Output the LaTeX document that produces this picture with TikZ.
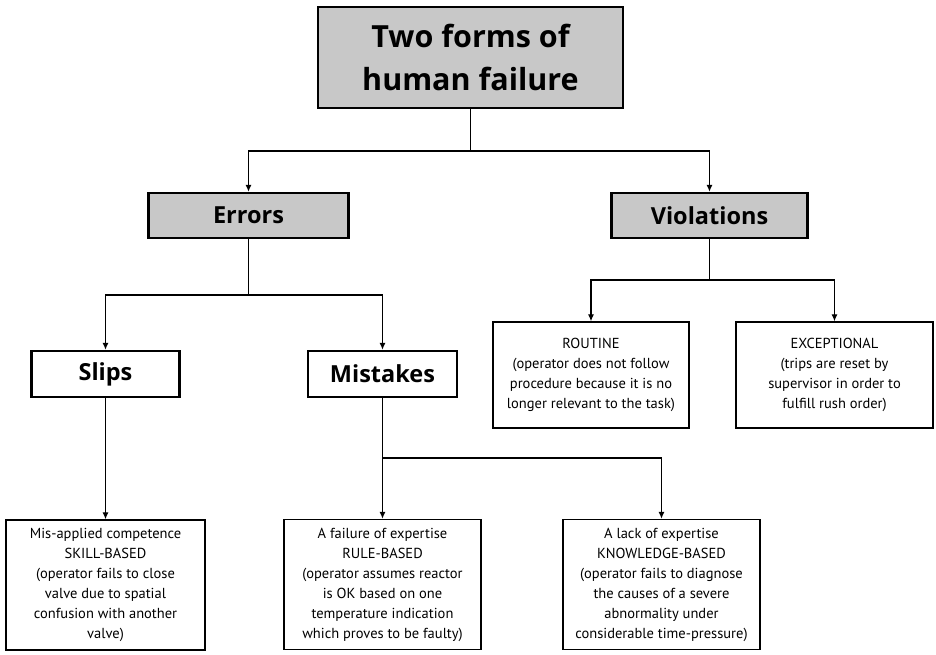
\documentclass[tikz,border=0pt]{standalone}
\usepackage{fontspec}
\setmainfont{PT Sans}
\newfontfamily\headfont{Open Sans}
\usetikzlibrary{arrows.meta}
\definecolor{boxgray}{RGB}{200,200,200}
\begin{document}
\begin{tikzpicture}[x=1pt,y=-1pt,
  head/.style={draw, line width=2.4pt, fill=boxgray, inner sep=0pt, font=\headfont\bfseries\fontsize{23.5}{26}\selectfont},
  sub/.style={draw, line width=2.4pt, fill=white, inner sep=0pt, font=\headfont\bfseries\fontsize{23.5}{26}\selectfont},
  leaf/.style={draw, line width=1.4pt, fill=white, inner sep=0pt, align=center, font=\fontsize{14.5}{20}\selectfont},
  conn/.style={line width=1.1pt},
  arr/.style={line width=1.1pt, -{Latex[length=7pt,width=6pt]}}]
\useasboundingbox (0,0) rectangle (936,654);
% nodes
\node[head, minimum width=305pt, minimum height=101pt, align=center,
      font=\headfont\bfseries\fontsize{30.5}{43}\selectfont] (top) at (470.5,57.5) {Two forms of\\human failure};
\node[head, minimum width=200pt, minimum height=45pt] (err) at (248.5,215.5) {Errors};
\node[head, minimum width=196pt, minimum height=45pt] (vio) at (709.5,215.5) {Violations};
\node[sub, minimum width=148pt, minimum height=46pt] (slips) at (105.5,374) {Slips};
\node[sub, minimum width=149pt, minimum height=46pt] (mist) at (382.5,374) {Mistakes};
\node[leaf, minimum width=196pt, minimum height=106pt] (rout) at (591,375) {ROUTINE\\(operator does not follow\\procedure because it is no\\longer relevant to the task)};
\node[leaf, minimum width=197pt, minimum height=106pt] (exc) at (834.5,375) {EXCEPTIONAL\\(trips are reset by\\supervisor in order to\\fulfill rush order)};
\node[leaf, minimum width=199pt, minimum height=130pt] (skill) at (105.5,585) {Mis-applied competence\\SKILL-BASED\\(operator fails to close\\valve due to spatial\\confusion with another\\valve)};
\node[leaf, minimum width=197pt, minimum height=130pt] (rule) at (382.5,584.5) {A failure of expertise\\RULE-BASED\\(operator assumes reactor\\is OK based on one\\temperature indication\\which proves to be faulty)};
\node[leaf, minimum width=197pt, minimum height=130pt] (know) at (661.5,584.5) {A lack of expertise\\KNOWLEDGE-BASED\\(operator fails to diagnose\\the causes of a severe\\abnormality under\\considerable time-pressure)};
% junctions
\coordinate (j1) at (470.5,151);
\coordinate (j2) at (248.5,295);
\coordinate (j3) at (709.5,280);
\coordinate (j4) at (382.5,458);
% connectors
\draw[conn] (top.south) -- (j1);
\draw[arr] (j1) -| (err.north);
\draw[arr] (j1) -| (vio.north);
\draw[conn] (err.south) -- (j2);
\draw[arr] (j2) -| (slips.north);
\draw[arr] (j2) -| (mist.north);
\draw[conn] (vio.south) -- (j3);
\draw[arr] (j3) -| (rout.north);
\draw[arr] (j3) -| (exc.north);
\draw[arr] (slips.south) -- (skill.north);
\draw[conn] (mist.south) -- (j4);
\draw[arr] (j4) -- (rule.north);
\draw[arr] (j4) -| (know.north);
\end{tikzpicture}
\end{document}
